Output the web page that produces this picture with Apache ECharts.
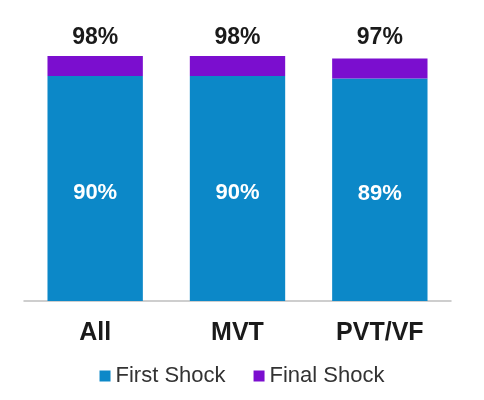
<!DOCTYPE html>
<html lang="en">
<head>
<meta charset="UTF-8">
<title>Shock success</title>
<script src="https://cdn.jsdelivr.net/npm/echarts@6/dist/echarts.min.js"></script>
<style>
    html, body { margin: 0; padding: 0; background: #fff; }
    #container { width: 484px; height: 400px; }
</style>
</head>
<body>
<div id="container"></div>
<script type="text/javascript">
    // categories
    var groups = ['All', 'MVT', 'PVT/VF'];
    // first shock success (%)
    var firstShock = [90, 90, 89];
    // extra success by final shock (%)
    var finalShock = [8, 8, 8];
    // totals shown on top
    var totals = ['98%', '98%', '97%'];

    // empty space up to 100 so the total labels line up
    var cap = firstShock.map(function (v, i) { return 100 - v - finalShock[i]; });

    var myChart = echarts.init(document.getElementById('container'), null, { renderer: 'canvas' });

    var font = 'Liberation Sans, Arial, sans-serif';

    var option = {
        animation: false,
        grid: { left: 24, right: 33, top: 51, bottom: 99 },
        legend: {
            bottom: 8,
            left: 'center',
            itemWidth: 11,
            itemHeight: 11,
            itemGap: 28,
            icon: 'rect',
            textStyle: { fontFamily: font, fontSize: 22, color: '#333' },
            data: ['First Shock', 'Final Shock']
        },
        xAxis: {
            type: 'category',
            data: groups,
            axisLine: { show: true, lineStyle: { color: '#bfbfbf', width: 1.5 } },
            axisTick: { show: false },
            axisLabel: {
                margin: 20,
                fontFamily: font,
                fontSize: 25,
                fontWeight: 'bold',
                color: '#1a1a1a'
            }
        },
        yAxis: {
            type: 'value',
            min: 0,
            max: 100,
            show: false,
            splitLine: { show: false }
        },
        series: [
            {
                name: 'First Shock',
                type: 'bar',
                stack: 'total',
                barWidth: '67%',
                data: firstShock,
                itemStyle: { color: '#0c88c8' },
                label: {
                    show: true,
                    position: 'inside',
                    formatter: '{c}%',
                    fontFamily: font,
                    fontSize: 22,
                    fontWeight: 'bold',
                    color: '#fff',
                    offset: [0, 4]
                }
            },
            {
                name: 'Final Shock',
                type: 'bar',
                stack: 'total',
                data: finalShock,
                itemStyle: { color: '#7b0ecf' }
            },
            {
                name: 'cap',
                type: 'bar',
                stack: 'total',
                silent: true,
                data: cap,
                itemStyle: { color: 'rgba(0,0,0,0)' },
                label: {
                    show: true,
                    position: 'top',
                    distance: 2,
                    formatter: function (p) { return totals[p.dataIndex]; },
                    fontFamily: font,
                    fontSize: 23,
                    fontWeight: 'bold',
                    color: '#1a1a1a'
                }
            }
        ]
    };
    myChart.setOption(option);
    window.addEventListener('resize', myChart.resize);
</script>
</body>
</html>
